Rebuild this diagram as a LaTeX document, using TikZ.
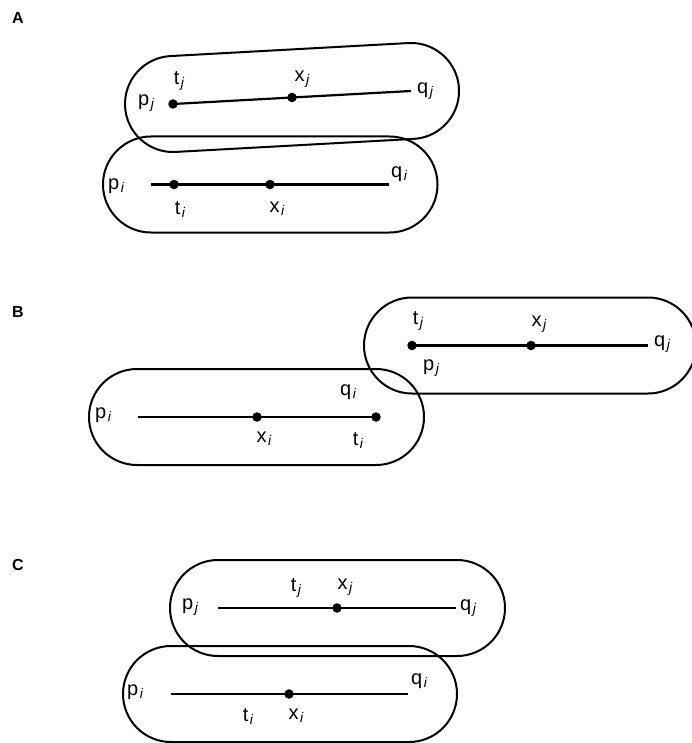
\documentclass[tikz,border=0pt]{standalone}
\usepackage{fontspec}
\setmainfont{Liberation Sans}
\begin{document}
\begin{tikzpicture}[x=1pt,y=1pt,
  capsule/.style={draw=black,line width=2pt},
  seg/.style={line width=2.2pt},
  dot/.style={circle,fill=black,inner sep=0pt,minimum size=9.5pt},
  lbl/.style={inner sep=0pt,font=\fontsize{20pt}{20pt}\selectfont},
  panel/.style={inner sep=0pt,font=\fontsize{16pt}{16pt}\selectfont\bfseries}]
\newcommand\sub[2]{#1\kern1.5pt\raisebox{-3pt}{\fontsize{14pt}{14pt}\selectfont\itshape #2}}
% capsule: start x, start y, axis length, angle
\newcommand\capsulepath[4]{%
  \begin{scope}[shift={(#1,#2)},rotate=#4]
    \draw[capsule] (0,-48) -- (#3,-48) arc[start angle=-90,end angle=90,radius=48pt]
      -- (0,48) arc[start angle=90,end angle=270,radius=48pt] -- cycle;
  \end{scope}}
\useasboundingbox (0,0) rectangle (691,-743);

% ---------------- A ----------------
\node[panel] (lA) at (18,-18) {A};
\capsulepath{173}{-104}{238.4}{3.13}
\capsulepath{151}{-184.5}{238.5}{0}
\coordinate (Aqj) at (411,-91);
\node[dot] (Atj) at (173,-104) {};
\node[dot] (Axj) at (292,-97.5) {};
\draw[seg] (Atj.center) -- (Aqj);
\coordinate (Api) at (151,-184.5);
\coordinate (Aqi) at (389,-184.5);
\draw[seg] (Api) -- (Aqi);
\node[dot] (Ati) at (174,-184.5) {};
\node[dot] (Axi) at (270,-184.5) {};
\node[lbl] at (146,-103) {\sub{p}{j}};
\node[lbl] at (179,-81) {\sub{t}{j}};
\node[lbl] at (302,-79) {\sub{x}{j}};
\node[lbl] at (425,-91) {\sub{q}{j}};
\node[lbl] at (116,-186) {\sub{p}{i}};
\node[lbl] at (399,-174) {\sub{q}{i}};
\node[lbl] at (180,-210) {\sub{t}{i}};
\node[lbl] at (277,-209) {\sub{x}{i}};

% ---------------- B ----------------
\node[panel] (lB) at (18,-312) {B};
\capsulepath{412}{-345.5}{236}{0}
\capsulepath{137}{-417}{239}{0}
\coordinate (Bqj) at (648,-345.5);
\node[dot] (Btj) at (412,-345.5) {};
\node[dot] (Bxj) at (531,-345.5) {};
\draw[seg] (Btj.center) -- (Bqj);
\coordinate (Bpi) at (138,-417);
\node[dot] (Bxi) at (257,-417) {};
\node[dot] (Bti) at (376,-417) {};
\draw[seg] (Bpi) -- (Bti.center);
\node[lbl] at (418,-321) {\sub{t}{j}};
\node[lbl] at (539,-324) {\sub{x}{j}};
\node[lbl] at (662,-344) {\sub{q}{j}};
\node[lbl] at (431,-368) {\sub{p}{j}};
\node[lbl] at (103,-415) {\sub{p}{i}};
\node[lbl] at (348,-392) {\sub{q}{i}};
\node[lbl] at (264,-439) {\sub{x}{i}};
\node[lbl] at (358,-441) {\sub{t}{i}};

% ---------------- C ----------------
\node[panel] (lC) at (18,-565) {C};
\capsulepath{218}{-608}{239}{0}
\capsulepath{171}{-694}{238}{0}
\coordinate (Cpj) at (218,-608);
\coordinate (Cqj) at (456,-608);
\draw[seg] (Cpj) -- (Cqj);
\node[dot] (Cxj) at (337,-608) {};
\coordinate (Cpi) at (171,-694);
\coordinate (Cqi) at (408,-694);
\draw[seg] (Cpi) -- (Cqi);
\node[dot] (Cxi) at (289,-694) {};
\node[lbl] at (190,-607) {\sub{p}{j}};
\node[lbl] at (296,-588) {\sub{t}{j}};
\node[lbl] at (345,-587) {\sub{x}{j}};
\node[lbl] at (468,-608) {\sub{q}{j}};
\node[lbl] at (135,-692) {\sub{p}{i}};
\node[lbl] at (419,-681) {\sub{q}{i}};
\node[lbl] at (248,-717) {\sub{t}{i}};
\node[lbl] at (296,-716) {\sub{x}{i}};
\end{tikzpicture}
\end{document}
